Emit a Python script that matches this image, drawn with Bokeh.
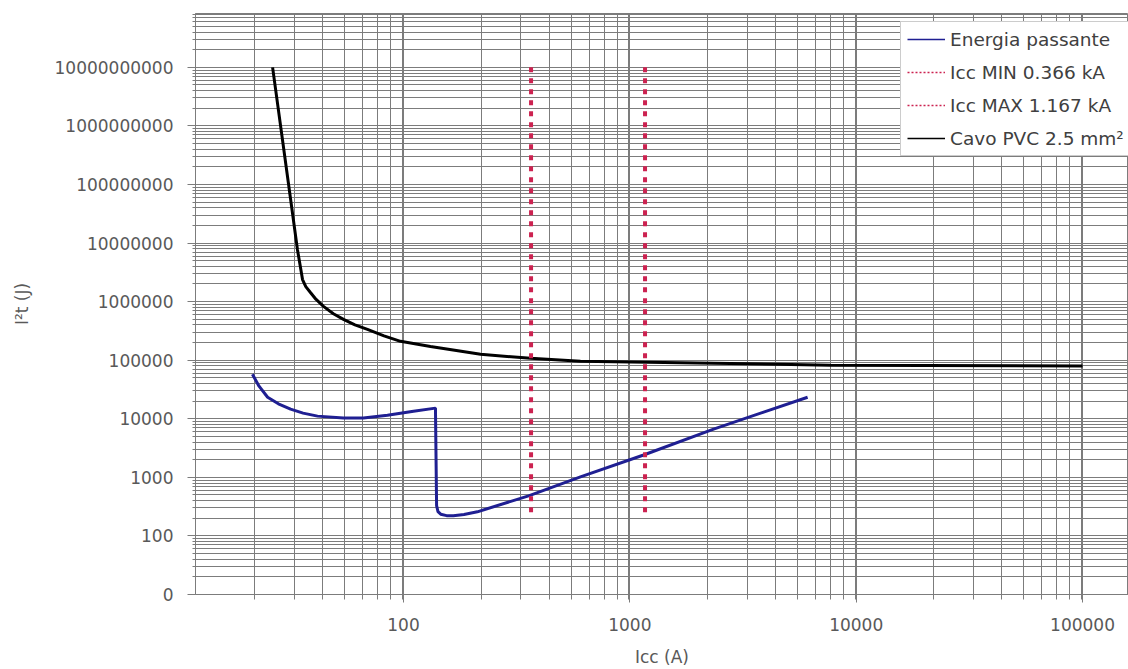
from bokeh.plotting import figure
from bokeh.models import FixedTicker, Legend, LegendItem, Range1d, CustomJSTickFormatter
from bokeh.embed import file_html
from bokeh.resources import INLINE

# ---- data ----
icc_energia = [21.5, 23.0, 25.1, 28.0, 31.7, 36.0, 41.7, 54.3, 66.5, 84.9, 110.7, 138.4,
               140.0, 142.0, 146.0, 155.0, 166.0, 185.0, 212.0, 357.0, 605.0, 1150.0,
               2344.0, 3900.0, 6100.0]
i2t_energia = [5.75e4, 3.6e4, 2.33e4, 1.8e4, 1.46e4, 1.25e4, 1.11e4, 1.03e4, 1.03e4, 1.15e4,
               1.35e4, 1.52e4, 330, 260, 235, 222, 221, 232, 258, 483, 1016, 2410,
               6670, 1.30e4, 2.33e4]

icc_cavo = [26.4, 31.0, 34.0, 35.8, 37.0, 38.8, 41.0, 44.3, 49.0, 54.3, 61.0, 69.3, 82.0,
            97.0, 131.6, 219.0, 364.0, 605.0, 1197.0, 2344.0, 4500.0, 7710.0, 20000.0,
            100000.0]
i2t_cavo = [1.0e10, 1.06e8, 7.7e6, 2.38e6, 1.8e6, 1.43e6, 1.1e6, 8.3e5, 6.2e5, 4.97e5,
            4.0e5, 3.35e5, 2.6e5, 2.1e5, 1.72e5, 1.26e5, 1.08e5, 9.57e4, 9.2e4, 8.85e4,
            8.5e4, 8.2e4, 8.1e4, 8.0e4]

icc_marks = [366.0, 1167.0]          # Icc MIN, Icc MAX (A)
mark_bottom = [200.0, 200.0]
mark_top = [1e10, 1e10]

series_labels = ["Energia passante", "Icc MIN 0.366 kA", "Icc MAX 1.167 kA", "Cavo PVC 2.5 mm²"]

x_ticks = [100, 1000, 10000, 100000]
x_tick_labels = ["100", "1000", "10000", "100000"]
y_ticks = [1e1, 1e2, 1e3, 1e4, 1e5, 1e6, 1e7, 1e8, 1e9, 1e10]
y_tick_labels = ["0", "100", "1000", "10000", "100000", "1000000", "10000000",
                 "100000000", "1000000000", "10000000000"]

x_minor = [1.1 * k * 10 ** n for n in range(1, 6) for k in range(2, 10)]
y_minor = [k * 10 ** n for n in range(1, 11) for k in range(2, 10)]

# ---- styling ----
GRID = "#7c7c7c"
TXT = "#595959"
FONT = "DejaVu Sans"
BLUE = "#1f1f92"
RED = "#cc2250"
NAN = float("nan")

p = figure(width=1128, height=669, x_axis_type="log", y_axis_type="log",
           x_range=Range1d(12.05, 159600), y_range=Range1d(10, 8.3e10),
           output_backend="svg", toolbar_location=None, title=None,
           min_border_left=195, min_border_right=0, min_border_top=13, min_border_bottom=73)
p.background_fill_color = "white"
p.border_fill_color = "white"
p.outline_line_color = GRID

xt = FixedTicker(ticks=x_ticks, minor_ticks=x_minor)
yt = FixedTicker(ticks=y_ticks, minor_ticks=y_minor)
p.xaxis.ticker = xt
p.yaxis.ticker = yt
p.xgrid.ticker = xt
p.ygrid.ticker = yt

FMT_CODE = """
const i = tvals.findIndex(t => Math.abs(t - tick) / t < 1e-6);
return i >= 0 ? tlabels[i] : '';
"""
p.xaxis.formatter = CustomJSTickFormatter(args=dict(tvals=x_ticks, tlabels=x_tick_labels), code=FMT_CODE)
p.yaxis.formatter = CustomJSTickFormatter(args=dict(tvals=y_ticks, tlabels=y_tick_labels), code=FMT_CODE)

for g in (p.xgrid, p.ygrid):
    g.grid_line_color = GRID
    g.grid_line_width = 1
    g.minor_grid_line_color = GRID
    g.minor_grid_line_width = 1

for ax in (p.xaxis, p.yaxis):
    ax.axis_line_color = GRID
    ax.major_tick_line_color = GRID
    ax.minor_tick_line_color = GRID
    ax.major_tick_out = 8
    ax.major_tick_in = 0
    ax.minor_tick_in = 0
    ax.major_label_text_font = FONT
    ax.major_label_text_font_size = "17px"
    ax.major_label_text_color = TXT
    ax.axis_label_text_font = FONT
    ax.axis_label_text_font_size = "17px"
    ax.axis_label_text_color = TXT
    ax.axis_label_text_font_style = "normal"

p.xaxis.minor_tick_out = 5
p.yaxis.minor_tick_out = 3
p.xaxis.major_label_standoff = 15
p.yaxis.major_label_standoff = 14
p.xaxis.axis_label = "Icc (A)"
p.yaxis.axis_label = "I²t (J)"
p.xaxis.axis_label_standoff = 13
p.yaxis.axis_label_standoff = 20

# ---- data marks ----
p.line(icc_cavo, i2t_cavo, line_color="black", line_width=3)
p.line(icc_energia, i2t_energia, line_color=BLUE, line_width=3)
p.segment(x0=icc_marks, y0=mark_top, x1=icc_marks, y1=mark_bottom,
          line_color=RED, line_width=4, line_dash="5 6", line_cap="butt")

# ---- legend proxies (thin strokes, like the reference legend; nothing drawn in plot) ----
lg_blue = p.line(x=[NAN], y=[NAN], line_color=BLUE, line_width=1.5)
lg_min = p.line(x=[NAN], y=[NAN], line_color=RED, line_width=1.5, line_dash="2 2")
lg_max = p.line(x=[NAN], y=[NAN], line_color=RED, line_width=1.5, line_dash="2 2")
lg_cavo = p.line(x=[NAN], y=[NAN], line_color="black", line_width=1.5)

legend = Legend(items=[LegendItem(label=series_labels[0], renderers=[lg_blue]),
                       LegendItem(label=series_labels[1], renderers=[lg_min]),
                       LegendItem(label=series_labels[2], renderers=[lg_max]),
                       LegendItem(label=series_labels[3], renderers=[lg_cavo])],
                location=(705, 438))
legend.border_line_color = "#9a9a9a"
legend.border_line_width = 1
legend.background_fill_color = "white"
legend.background_fill_alpha = 1.0
legend.label_text_font = FONT
legend.label_text_font_size = "18.5px"
legend.label_text_color = "#404040"
legend.glyph_width = 38
legend.glyph_height = 22
legend.label_height = 22
legend.label_width = 172
legend.spacing = 11
legend.padding = 6
legend.margin = 0
legend.label_standoff = 5
p.add_layout(legend)

open("out.html", "w").write(file_html(p, INLINE))
